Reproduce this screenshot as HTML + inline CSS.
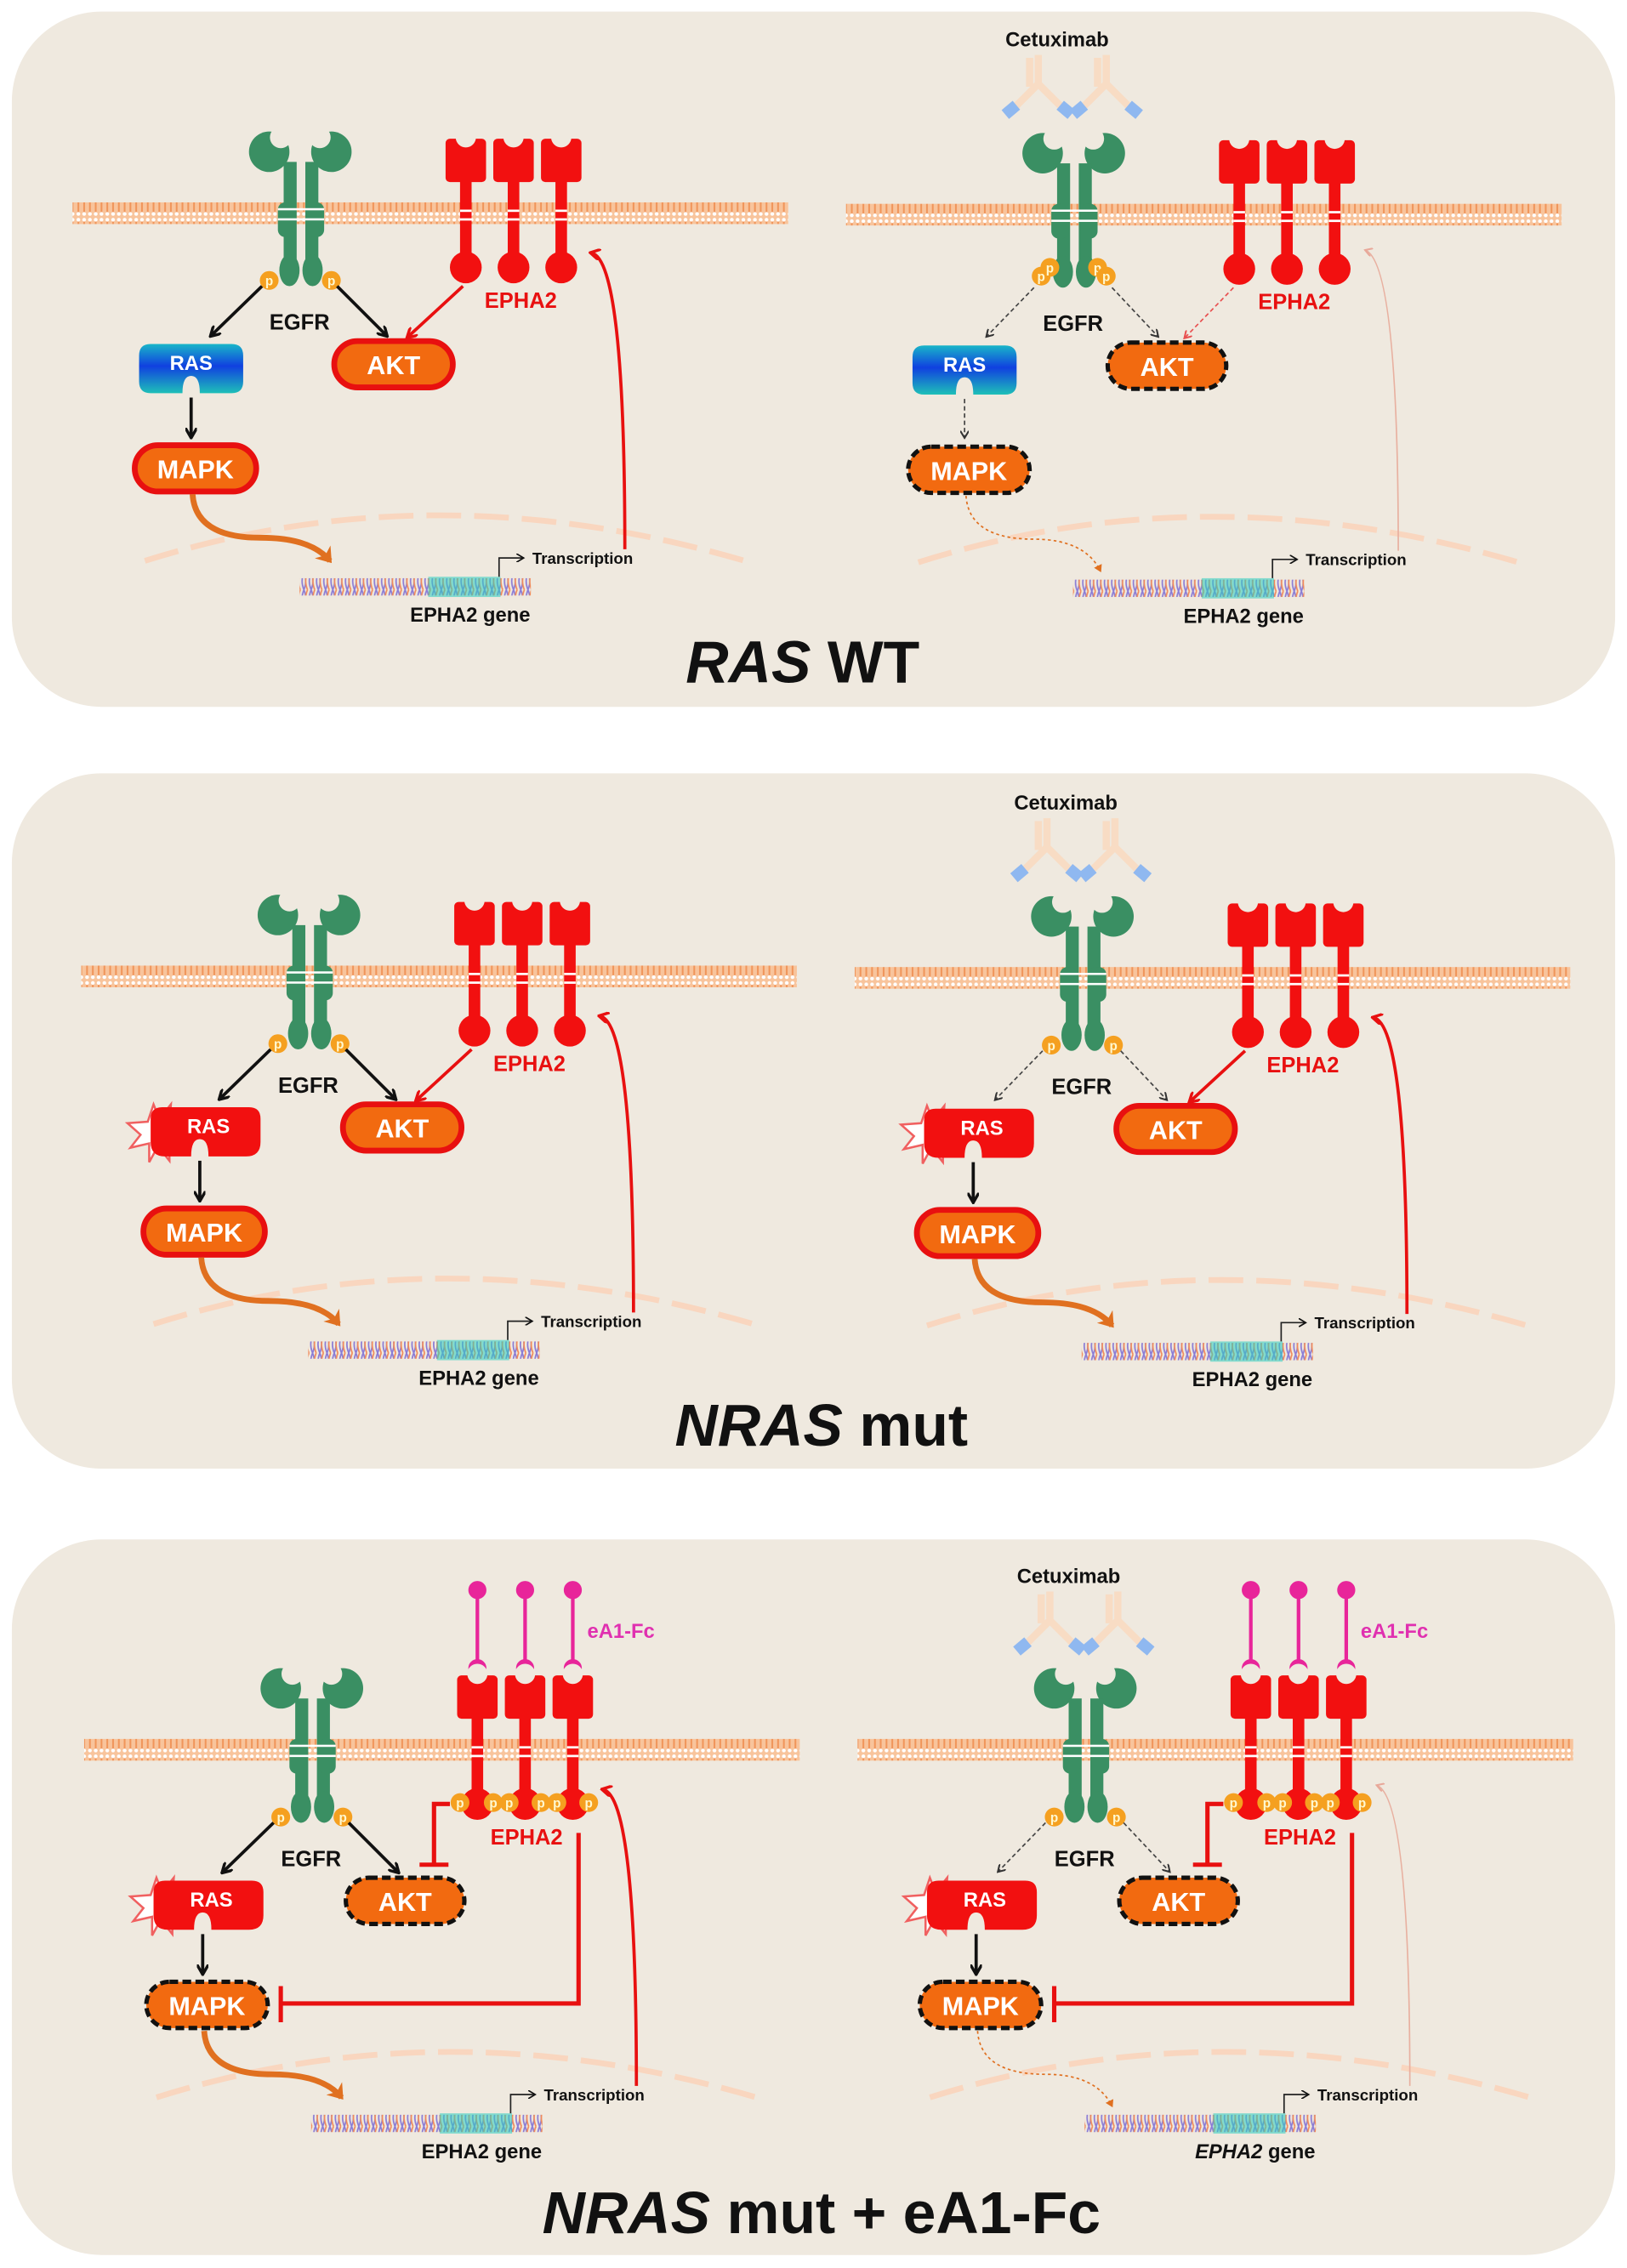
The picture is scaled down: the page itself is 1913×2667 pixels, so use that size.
<!DOCTYPE html>
<html><head><meta charset="utf-8"><style>
html,body{margin:0;padding:0;background:#fff}
svg{display:block}
text{font-family:"Liberation Sans",Arial,sans-serif;font-weight:bold}
</style></head><body>
<svg width="1913" height="2667" viewBox="0 0 1125 1569" xmlns="http://www.w3.org/2000/svg">
<defs>
 <pattern id="mp" width="4" height="15" patternUnits="userSpaceOnUse">
  <rect width="4" height="15" fill="#f8c49c"/>
  <line x1="2" y1="2" x2="2" y2="13" stroke="#f0955a" stroke-width="1.2"/>
  <circle cx="2" cy="2" r="1.3" fill="#fff"/><circle cx="2" cy="13" r="1.3" fill="#fff"/>
 </pattern>
 <pattern id="dp" width="5" height="12" patternUnits="userSpaceOnUse">
  <rect width="5" height="12" fill="#f0e9de"/>
  <path d="M0 0 Q2.5 6 0 12 M5 0 Q2.5 6 5 12" stroke="#8a7cd6" stroke-width="1" fill="none"/>
  <path d="M2.5 0 Q0 6 2.5 12" stroke="#f08a5a" stroke-width="1" fill="none"/>
 </pattern>
 <linearGradient id="rasg" x1="0" y1="0" x2="0" y2="1">
  <stop offset="0" stop-color="#19b6c8"/><stop offset="0.45" stop-color="#1040e0"/><stop offset="1" stop-color="#1ec0b8"/>
 </linearGradient>
 <marker id="ab" markerWidth="8" markerHeight="8" refX="6" refY="4" orient="auto" markerUnits="userSpaceOnUse"><path d="M0 0 L7 4 L0 8" fill="none" stroke="#111" stroke-width="2"/></marker>
 <marker id="ar" markerWidth="8" markerHeight="8" refX="6" refY="4" orient="auto" markerUnits="userSpaceOnUse"><path d="M0 0 L7 4 L0 8" fill="none" stroke="#e81010" stroke-width="2"/></marker>
 <marker id="abs" markerWidth="6" markerHeight="6" refX="5" refY="3" orient="auto" markerUnits="userSpaceOnUse"><path d="M0 0 L5 3 L0 6" fill="none" stroke="#333" stroke-width="1.2"/></marker>
 <marker id="ars" markerWidth="6" markerHeight="6" refX="5" refY="3" orient="auto" markerUnits="userSpaceOnUse"><path d="M0 0 L5 3 L0 6" fill="none" stroke="#e85050" stroke-width="1.2"/></marker>
 <marker id="arf" markerWidth="6" markerHeight="6" refX="5" refY="3" orient="auto" markerUnits="userSpaceOnUse"><path d="M0 0 L5 3 L0 6" fill="none" stroke="#e8a89a" stroke-width="1.2"/></marker>
 <marker id="ao" markerWidth="14" markerHeight="14" refX="8" refY="7" orient="auto" markerUnits="userSpaceOnUse"><path d="M0 0 L10 7 L0 14 L3 7Z" fill="#e07020"/></marker>
 <marker id="aos" markerWidth="6" markerHeight="6" refX="4" refY="3" orient="auto" markerUnits="userSpaceOnUse"><path d="M0 0 L5 3 L0 6Z" fill="#e07020"/></marker>
 <marker id="at" markerWidth="6" markerHeight="6" refX="5" refY="3" orient="auto" markerUnits="userSpaceOnUse"><path d="M0 0 L5 3 L0 6" fill="none" stroke="#111" stroke-width="1"/></marker>

 <g id="mem"><rect x="50" y="140" width="495" height="15" fill="url(#mp)"/></g>
 <g id="egfr" fill="#3a8f63">
  <circle cx="186" cy="105" r="14"/><circle cx="194" cy="95" r="7.5" fill="#efe9df"/>
  <circle cx="229" cy="105" r="14"/><circle cx="221" cy="95" r="7.5" fill="#efe9df"/>
  <rect x="196" y="112" width="9" height="74"/><rect x="211" y="112" width="9" height="74"/>
  <rect x="192" y="140" width="12" height="24" rx="5"/><rect x="212" y="140" width="12" height="24" rx="5"/>
  <ellipse cx="200" cy="187" rx="7" ry="11"/><ellipse cx="216" cy="187" rx="7" ry="11"/>
  <g fill="#fff"><rect x="192" y="144" width="32" height="1.5"/><rect x="192" y="151" width="32" height="1.5"/></g>
 </g>
 <g id="eph1" fill="#f21010">
  <rect x="-14" y="96" width="28" height="30" rx="3"/><circle cx="0" cy="95" r="7" fill="#efe9df"/>
  <rect x="-4" y="124" width="8" height="58"/><circle cx="0" cy="185" r="11"/>
  <g fill="#fff"><rect x="-4" y="145" width="8" height="1.6"/><rect x="-4" y="151" width="8" height="1.6"/></g>
 </g>
 <g id="eph"><use href="#eph1" x="322"/><use href="#eph1" x="355"/><use href="#eph1" x="388"/></g>
 <g id="p"><circle r="6.5" fill="#f5a020"/><text y="3.5" font-size="9" fill="#fff8d0" text-anchor="middle" font-weight="normal">p</text></g>
 <g id="nuc"><path d="M100 388 Q300 325 515 388" fill="none" stroke="#f9d6bf" stroke-width="4" stroke-dasharray="24 9"/></g>
 <g id="dna">
  <rect x="207" y="400" width="160" height="12" fill="url(#dp)"/>
  <rect x="296" y="399" width="50" height="14" fill="#2ad0c0" opacity="0.55"/>
  <path d="M345 399 V386 H362" fill="none" stroke="#222" stroke-width="1" marker-end="url(#at)"/>
 </g>
 <g id="ab1">
  <path d="M0 0 V20 L-16 36 M0 20 L16 36 M-6 2 V22" fill="none" stroke="#f8dcc4" stroke-width="5"/>
  <rect x="-24" y="34" width="10" height="8" fill="#8fb8f0" transform="rotate(-40 -19 38)"/>
  <rect x="14" y="34" width="10" height="8" fill="#8fb8f0" transform="rotate(40 19 38)"/>
 </g>
 <g id="abs2"><use href="#ab1" x="718" y="38"/><use href="#ab1" x="765" y="38"/><text x="731" y="32" font-size="14" text-anchor="middle" fill="#111">Cetuximab</text></g>
 <g id="star"><polygon points="96,248 100,236 104,246 112,236 111,250 122,246 114,255 122,262 111,262 111,275 103,265 97,276 97,263 84,266 91,257 82,249" fill="#fff" stroke="#f06060" stroke-width="1.5"/></g>
 <g id="rasblue"><path d="M104 238 H160 Q168 238 168 246 V264 Q168 272 160 272 H138 Q138 260 132 260 Q126 260 126 272 H104 Q96 272 96 264 V246 Q96 238 104 238Z" fill="url(#rasg)"/><text x="132" y="256" font-size="14" fill="#fff" text-anchor="middle">RAS</text></g>
 <g id="rasred"><path d="M106 238 H166 Q174 238 174 246 V262 Q174 272 164 272 H138 Q138 260 132 260 Q126 260 126 272 H108 Q98 272 98 262 V246 Q98 238 106 238Z" fill="#f21010"/><text x="138" y="256" font-size="14" fill="#fff" text-anchor="middle">RAS</text></g>
</defs>

<rect x="8" y="8" width="1109" height="481" rx="62" fill="#efe9df"/>
<rect x="8" y="535" width="1109" height="481" rx="62" fill="#efe9df"/>
<rect x="8" y="1065" width="1109" height="495" rx="62" fill="#efe9df"/>

<!-- PANEL 1 LEFT -->
<g>
 <use href="#nuc"/><use href="#mem"/><use href="#egfr"/><use href="#eph"/>
 <use href="#p" x="186" y="194"/><use href="#p" x="229" y="194"/>
 <text x="207" y="228" font-size="15" text-anchor="middle" fill="#111">EGFR</text>
 <text x="360" y="213" font-size="15" text-anchor="middle" fill="#e81010">EPHA2</text>
 <line x1="181" y1="198" x2="146" y2="232" stroke="#111" stroke-width="2.2" marker-end="url(#ab)"/>
 <line x1="233" y1="198" x2="267" y2="232" stroke="#111" stroke-width="2.2" marker-end="url(#ab)"/>
 <line x1="320" y1="198" x2="282" y2="233" stroke="#e81010" stroke-width="2.2" marker-end="url(#ar)"/>
 <use href="#rasblue"/>
 <line x1="132" y1="275" x2="132" y2="302" stroke="#111" stroke-width="2.2" marker-end="url(#ab)"/>
 <rect x="231" y="236" width="82" height="32" rx="16" fill="#f26a10" stroke="#e81010" stroke-width="4"/>
 <text x="272" y="259" font-size="18" fill="#fff" text-anchor="middle">AKT</text>
 <rect x="93" y="308" width="84" height="32" rx="16" fill="#f26a10" stroke="#e81010" stroke-width="4"/>
 <text x="135" y="331" font-size="18" fill="#fff" text-anchor="middle">MAPK</text>
 <path d="M133 342 Q135 372 180 372 Q215 372 228 388" fill="none" stroke="#e07020" stroke-width="4" marker-end="url(#ao)"/>
 <use href="#dna"/>
 <text x="368" y="390" font-size="11" fill="#111">Transcription</text>
 <text x="325" y="430" font-size="14" text-anchor="middle" fill="#111">EPHA2 gene</text>
 <path d="M432 380 Q432 180 409 175" fill="none" stroke="#e81010" stroke-width="2.2" marker-end="url(#ar)"/>
</g>

<!-- PANEL 1 RIGHT -->
<g transform="translate(535,1)">
 <use href="#nuc"/><use href="#mem"/><use href="#egfr"/><use href="#eph"/>
 <use href="#p" x="185" y="190"/><use href="#p" x="191" y="184"/><use href="#p" x="224" y="184"/><use href="#p" x="230" y="190"/>
 <text x="207" y="228" font-size="15" text-anchor="middle" fill="#111">EGFR</text>
 <text x="360" y="213" font-size="15" text-anchor="middle" fill="#e81010">EPHA2</text>
 <line x1="180" y1="198" x2="147" y2="232" stroke="#444" stroke-width="1" stroke-dasharray="3 2" marker-end="url(#abs)"/>
 <line x1="234" y1="198" x2="266" y2="232" stroke="#444" stroke-width="1" stroke-dasharray="3 2" marker-end="url(#abs)"/>
 <line x1="318" y1="198" x2="284" y2="233" stroke="#e85050" stroke-width="1" stroke-dasharray="3 2" marker-end="url(#ars)"/>
 <use href="#rasblue"/>
 <line x1="132" y1="275" x2="132" y2="302" stroke="#444" stroke-width="1" stroke-dasharray="3 2" marker-end="url(#abs)"/>
 <rect x="231" y="236" width="82" height="32" rx="16" fill="#f26a10" stroke="#111" stroke-width="3" stroke-dasharray="6 3"/>
 <text x="272" y="259" font-size="18" fill="#fff" text-anchor="middle">AKT</text>
 <rect x="93" y="308" width="84" height="32" rx="16" fill="#f26a10" stroke="#111" stroke-width="3" stroke-dasharray="6 3"/>
 <text x="135" y="331" font-size="18" fill="#fff" text-anchor="middle">MAPK</text>
 <path d="M133 342 Q135 372 180 372 Q215 372 226 394" fill="none" stroke="#e07020" stroke-width="1" stroke-dasharray="2 2" marker-end="url(#aos)"/>
 <use href="#dna"/>
 <text x="368" y="390" font-size="11" fill="#111">Transcription</text>
 <text x="325" y="430" font-size="14" text-anchor="middle" fill="#111">EPHA2 gene</text>
 <path d="M432 380 Q432 180 409 172" fill="none" stroke="#e8b0a0" stroke-width="1" marker-end="url(#arf)"/>
</g>
<use href="#abs2"/>
<text x="555" y="472" font-size="41" text-anchor="middle" fill="#111"><tspan font-style="italic">RAS</tspan> WT</text>

<!-- PANEL 2 LEFT -->
<g transform="translate(6,528)">
 <use href="#nuc"/><use href="#mem"/><use href="#egfr"/><use href="#eph"/>
 <use href="#p" x="186" y="194"/><use href="#p" x="229" y="194"/>
 <text x="207" y="228" font-size="15" text-anchor="middle" fill="#111">EGFR</text>
 <text x="360" y="213" font-size="15" text-anchor="middle" fill="#e81010">EPHA2</text>
 <line x1="181" y1="198" x2="146" y2="232" stroke="#111" stroke-width="2.2" marker-end="url(#ab)"/>
 <line x1="233" y1="198" x2="267" y2="232" stroke="#111" stroke-width="2.2" marker-end="url(#ab)"/>
 <line x1="320" y1="198" x2="282" y2="233" stroke="#e81010" stroke-width="2.2" marker-end="url(#ar)"/>
 <use href="#star"/><use href="#rasred"/>
 <line x1="132" y1="275" x2="132" y2="302" stroke="#111" stroke-width="2.2" marker-end="url(#ab)"/>
 <rect x="231" y="236" width="82" height="32" rx="16" fill="#f26a10" stroke="#e81010" stroke-width="4"/>
 <text x="272" y="259" font-size="18" fill="#fff" text-anchor="middle">AKT</text>
 <rect x="93" y="308" width="84" height="32" rx="16" fill="#f26a10" stroke="#e81010" stroke-width="4"/>
 <text x="135" y="331" font-size="18" fill="#fff" text-anchor="middle">MAPK</text>
 <path d="M133 342 Q135 372 180 372 Q215 372 228 388" fill="none" stroke="#e07020" stroke-width="4" marker-end="url(#ao)"/>
 <use href="#dna"/>
 <text x="368" y="390" font-size="11" fill="#111">Transcription</text>
 <text x="325" y="430" font-size="14" text-anchor="middle" fill="#111">EPHA2 gene</text>
 <path d="M432 380 Q432 180 409 175" fill="none" stroke="#e81010" stroke-width="2.2" marker-end="url(#ar)"/>
</g>

<!-- PANEL 2 RIGHT -->
<g transform="translate(541,529)">
 <use href="#nuc"/><use href="#mem"/><use href="#egfr"/><use href="#eph"/>
 <use href="#p" x="186" y="194"/><use href="#p" x="229" y="194"/>
 <text x="207" y="228" font-size="15" text-anchor="middle" fill="#111">EGFR</text>
 <text x="360" y="213" font-size="15" text-anchor="middle" fill="#e81010">EPHA2</text>
 <line x1="180" y1="198" x2="147" y2="232" stroke="#444" stroke-width="1" stroke-dasharray="3 2" marker-end="url(#abs)"/>
 <line x1="234" y1="198" x2="266" y2="232" stroke="#444" stroke-width="1" stroke-dasharray="3 2" marker-end="url(#abs)"/>
 <line x1="320" y1="198" x2="282" y2="233" stroke="#e81010" stroke-width="2.2" marker-end="url(#ar)"/>
 <use href="#star"/><use href="#rasred"/>
 <line x1="132" y1="275" x2="132" y2="302" stroke="#111" stroke-width="2.2" marker-end="url(#ab)"/>
 <rect x="231" y="236" width="82" height="32" rx="16" fill="#f26a10" stroke="#e81010" stroke-width="4"/>
 <text x="272" y="259" font-size="18" fill="#fff" text-anchor="middle">AKT</text>
 <rect x="93" y="308" width="84" height="32" rx="16" fill="#f26a10" stroke="#e81010" stroke-width="4"/>
 <text x="135" y="331" font-size="18" fill="#fff" text-anchor="middle">MAPK</text>
 <path d="M133 342 Q135 372 180 372 Q215 372 228 388" fill="none" stroke="#e07020" stroke-width="4" marker-end="url(#ao)"/>
 <use href="#dna"/>
 <text x="368" y="390" font-size="11" fill="#111">Transcription</text>
 <text x="325" y="430" font-size="14" text-anchor="middle" fill="#111">EPHA2 gene</text>
 <path d="M432 380 Q432 180 409 175" fill="none" stroke="#e81010" stroke-width="2.2" marker-end="url(#ar)"/>
</g>
<use href="#abs2" x="6" y="528"/>
<text x="568" y="1000" font-size="41" text-anchor="middle" fill="#111"><tspan font-style="italic">NRAS</tspan> mut</text>

<!-- PANEL 3 LEFT -->
<g transform="translate(8,1063)">
 <g stroke="#e8259a" stroke-width="2.5" fill="#e8259a">
  <line x1="322" y1="37" x2="322" y2="93"/><line x1="355" y1="37" x2="355" y2="93"/><line x1="388" y1="37" x2="388" y2="93"/>
  <circle cx="322" cy="37" r="5"/><circle cx="355" cy="37" r="5"/><circle cx="388" cy="37" r="5"/>
  <circle cx="322" cy="91" r="5"/><circle cx="355" cy="91" r="5"/><circle cx="388" cy="91" r="5"/>
 </g>
 <text x="398" y="70" font-size="14" fill="#e030b0">eA1-Fc</text>
 <use href="#nuc"/><use href="#mem"/><use href="#egfr"/><use href="#eph"/>
 <use href="#p" x="186" y="194"/><use href="#p" x="229" y="194"/>
 <use href="#p" x="310" y="184"/><use href="#p" x="333" y="184"/><use href="#p" x="344" y="184"/><use href="#p" x="366" y="184"/><use href="#p" x="377" y="184"/><use href="#p" x="399" y="184"/>
 <text x="207" y="228" font-size="15" text-anchor="middle" fill="#111">EGFR</text>
 <text x="356" y="213" font-size="15" text-anchor="middle" fill="#e81010">EPHA2</text>
 <line x1="181" y1="198" x2="146" y2="232" stroke="#111" stroke-width="2.2" marker-end="url(#ab)"/>
 <line x1="233" y1="198" x2="267" y2="232" stroke="#111" stroke-width="2.2" marker-end="url(#ab)"/>
 <path d="M303 185 H292 V227 M282 227 H302" fill="none" stroke="#e81010" stroke-width="3"/>
 <use href="#star"/><use href="#rasred"/>
 <line x1="132" y1="275" x2="132" y2="302" stroke="#111" stroke-width="2.2" marker-end="url(#ab)"/>
 <rect x="231" y="236" width="82" height="32" rx="16" fill="#f26a10" stroke="#111" stroke-width="3" stroke-dasharray="6 3"/>
 <text x="272" y="259" font-size="18" fill="#fff" text-anchor="middle">AKT</text>
 <rect x="93" y="308" width="84" height="32" rx="16" fill="#f26a10" stroke="#111" stroke-width="3" stroke-dasharray="6 3"/>
 <text x="135" y="331" font-size="18" fill="#fff" text-anchor="middle">MAPK</text>
 <path d="M392 205 V323 H186 M186 311 V336" fill="none" stroke="#e81010" stroke-width="3"/>
 <path d="M133 342 Q135 372 180 372 Q215 372 228 388" fill="none" stroke="#e07020" stroke-width="4" marker-end="url(#ao)"/>
 <use href="#dna"/>
 <text x="368" y="390" font-size="11" fill="#111">Transcription</text>
 <text x="325" y="430" font-size="14" text-anchor="middle" fill="#111">EPHA2 gene</text>
 <path d="M432 380 Q432 180 409 175" fill="none" stroke="#e81010" stroke-width="2.2" marker-end="url(#ar)"/>
</g>

<!-- PANEL 3 RIGHT -->
<g transform="translate(543,1063)">
 <g stroke="#e8259a" stroke-width="2.5" fill="#e8259a">
  <line x1="322" y1="37" x2="322" y2="93"/><line x1="355" y1="37" x2="355" y2="93"/><line x1="388" y1="37" x2="388" y2="93"/>
  <circle cx="322" cy="37" r="5"/><circle cx="355" cy="37" r="5"/><circle cx="388" cy="37" r="5"/>
  <circle cx="322" cy="91" r="5"/><circle cx="355" cy="91" r="5"/><circle cx="388" cy="91" r="5"/>
 </g>
 <text x="398" y="70" font-size="14" fill="#e030b0">eA1-Fc</text>
 <use href="#nuc"/><use href="#mem"/><use href="#egfr"/><use href="#eph"/>
 <use href="#p" x="186" y="194"/><use href="#p" x="229" y="194"/>
 <use href="#p" x="310" y="184"/><use href="#p" x="333" y="184"/><use href="#p" x="344" y="184"/><use href="#p" x="366" y="184"/><use href="#p" x="377" y="184"/><use href="#p" x="399" y="184"/>
 <text x="207" y="228" font-size="15" text-anchor="middle" fill="#111">EGFR</text>
 <text x="356" y="213" font-size="15" text-anchor="middle" fill="#e81010">EPHA2</text>
 <line x1="180" y1="198" x2="147" y2="232" stroke="#444" stroke-width="1" stroke-dasharray="3 2" marker-end="url(#abs)"/>
 <line x1="234" y1="198" x2="266" y2="232" stroke="#444" stroke-width="1" stroke-dasharray="3 2" marker-end="url(#abs)"/>
 <path d="M303 185 H292 V227 M282 227 H302" fill="none" stroke="#e81010" stroke-width="3"/>
 <use href="#star"/><use href="#rasred"/>
 <line x1="132" y1="275" x2="132" y2="302" stroke="#111" stroke-width="2.2" marker-end="url(#ab)"/>
 <rect x="231" y="236" width="82" height="32" rx="16" fill="#f26a10" stroke="#111" stroke-width="3" stroke-dasharray="6 3"/>
 <text x="272" y="259" font-size="18" fill="#fff" text-anchor="middle">AKT</text>
 <rect x="93" y="308" width="84" height="32" rx="16" fill="#f26a10" stroke="#111" stroke-width="3" stroke-dasharray="6 3"/>
 <text x="135" y="331" font-size="18" fill="#fff" text-anchor="middle">MAPK</text>
 <path d="M392 205 V323 H186 M186 311 V336" fill="none" stroke="#e81010" stroke-width="3"/>
 <path d="M133 342 Q135 372 180 372 Q215 372 226 394" fill="none" stroke="#e07020" stroke-width="1" stroke-dasharray="2 2" marker-end="url(#aos)"/>
 <use href="#dna"/>
 <text x="368" y="390" font-size="11" fill="#111">Transcription</text>
 <text x="325" y="430" font-size="14" text-anchor="middle" fill="#111"><tspan font-style="italic">EPHA2</tspan> gene</text>
 <path d="M432 380 Q432 180 409 172" fill="none" stroke="#e8b0a0" stroke-width="1" marker-end="url(#arf)"/>
</g>
<use href="#abs2" x="8" y="1063"/>
<text x="568" y="1545" font-size="41" text-anchor="middle" fill="#111"><tspan font-style="italic">NRAS</tspan> mut + eA1-Fc</text>
</svg>
</body></html>
